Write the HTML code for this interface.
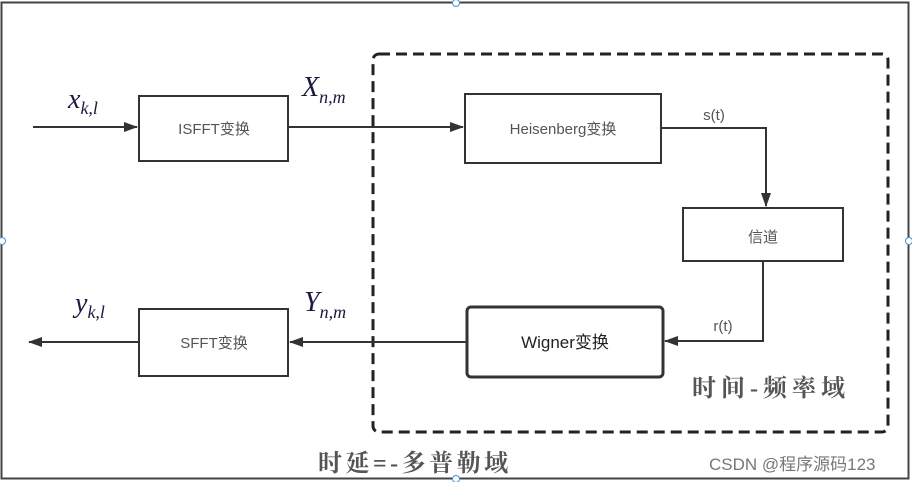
<!DOCTYPE html>
<html><head><meta charset="utf-8"><style>
body{margin:0;background:#fff;}
svg{display:block}
.s{font-family:"Liberation Sans","Noto Sans CJK SC",sans-serif;}
.m{font-family:"Liberation Serif",serif;font-style:italic;fill:#1a1a40}
.c{font-family:"Liberation Serif","Noto Serif CJK SC",serif;fill:#555;font-weight:bold}
</style></head><body>
<svg width="912" height="482" viewBox="0 0 912 482">
<defs><marker id="a" markerWidth="14" markerHeight="10" refX="13" refY="5" orient="auto" markerUnits="userSpaceOnUse"><path d="M0,0 L14,5 L0,10 z" fill="#333"/></marker></defs>
<rect x="1.5" y="2.5" width="907" height="476" fill="none" stroke="#444" stroke-width="2"/>
<g fill="#fff" stroke="#4a90d9" stroke-width="1"><circle cx="456" cy="3" r="3.5"/><circle cx="2" cy="241" r="3.5"/><circle cx="909" cy="241" r="3.5"/><circle cx="456" cy="479" r="3.5"/></g>
<rect x="373" y="54" width="515" height="378" rx="6" fill="none" stroke="#222" stroke-width="3" stroke-dasharray="11,6"/>
<g fill="none" stroke="#333" stroke-width="2">
<rect x="139" y="96" width="149" height="65"/>
<rect x="465" y="94" width="196" height="69"/>
<rect x="683" y="208" width="160" height="53"/>
<rect x="467" y="307" width="196" height="70" rx="4" stroke-width="3"/>
<rect x="139" y="309" width="149" height="67"/>
<line x1="33" y1="127" x2="137" y2="127" marker-end="url(#a)"/>
<line x1="288" y1="127" x2="463" y2="127" marker-end="url(#a)"/>
<polyline points="661,128 766,128 766,206" marker-end="url(#a)"/>
<polyline points="763,261 763,341 665,341" marker-end="url(#a)"/>
<line x1="467" y1="342" x2="290" y2="342" marker-end="url(#a)"/>
<line x1="139" y1="342" x2="29" y2="342" marker-end="url(#a)"/>
</g>
<g class="s" font-size="15" fill="#555" text-anchor="middle">
<text x="214" y="134">ISFFT变换</text>
<text x="563" y="134">Heisenberg变换</text>
<text x="763" y="242">信道</text>
<text x="565" y="348" font-size="17" fill="#222">Wigner变换</text>
<text x="214" y="348">SFFT变换</text>
<text x="714" y="120">s(t)</text>
<text x="723" y="331">r(t)</text>
</g>
<text class="m" x="68" y="108" font-size="28">x<tspan font-size="18" dy="6">k,l</tspan></text>
<text class="m" x="302" y="96" font-size="28">X<tspan font-size="18" dy="7">n,m</tspan></text>
<text class="m" x="75" y="312" font-size="28">y<tspan font-size="18" dy="6">k,l</tspan></text>
<text class="m" x="304" y="311" font-size="28">Y<tspan font-size="18" dy="7">n,m</tspan></text>
<text class="c" x="692" y="396" font-size="24" letter-spacing="5">时间-频率域</text>
<text class="c" x="318" y="471" font-size="24" letter-spacing="3.5">时延=-多普勒域</text>
<text class="s" x="709" y="470" font-size="17" fill="#777">CSDN @程序源码123</text>
</svg>
</body></html>
